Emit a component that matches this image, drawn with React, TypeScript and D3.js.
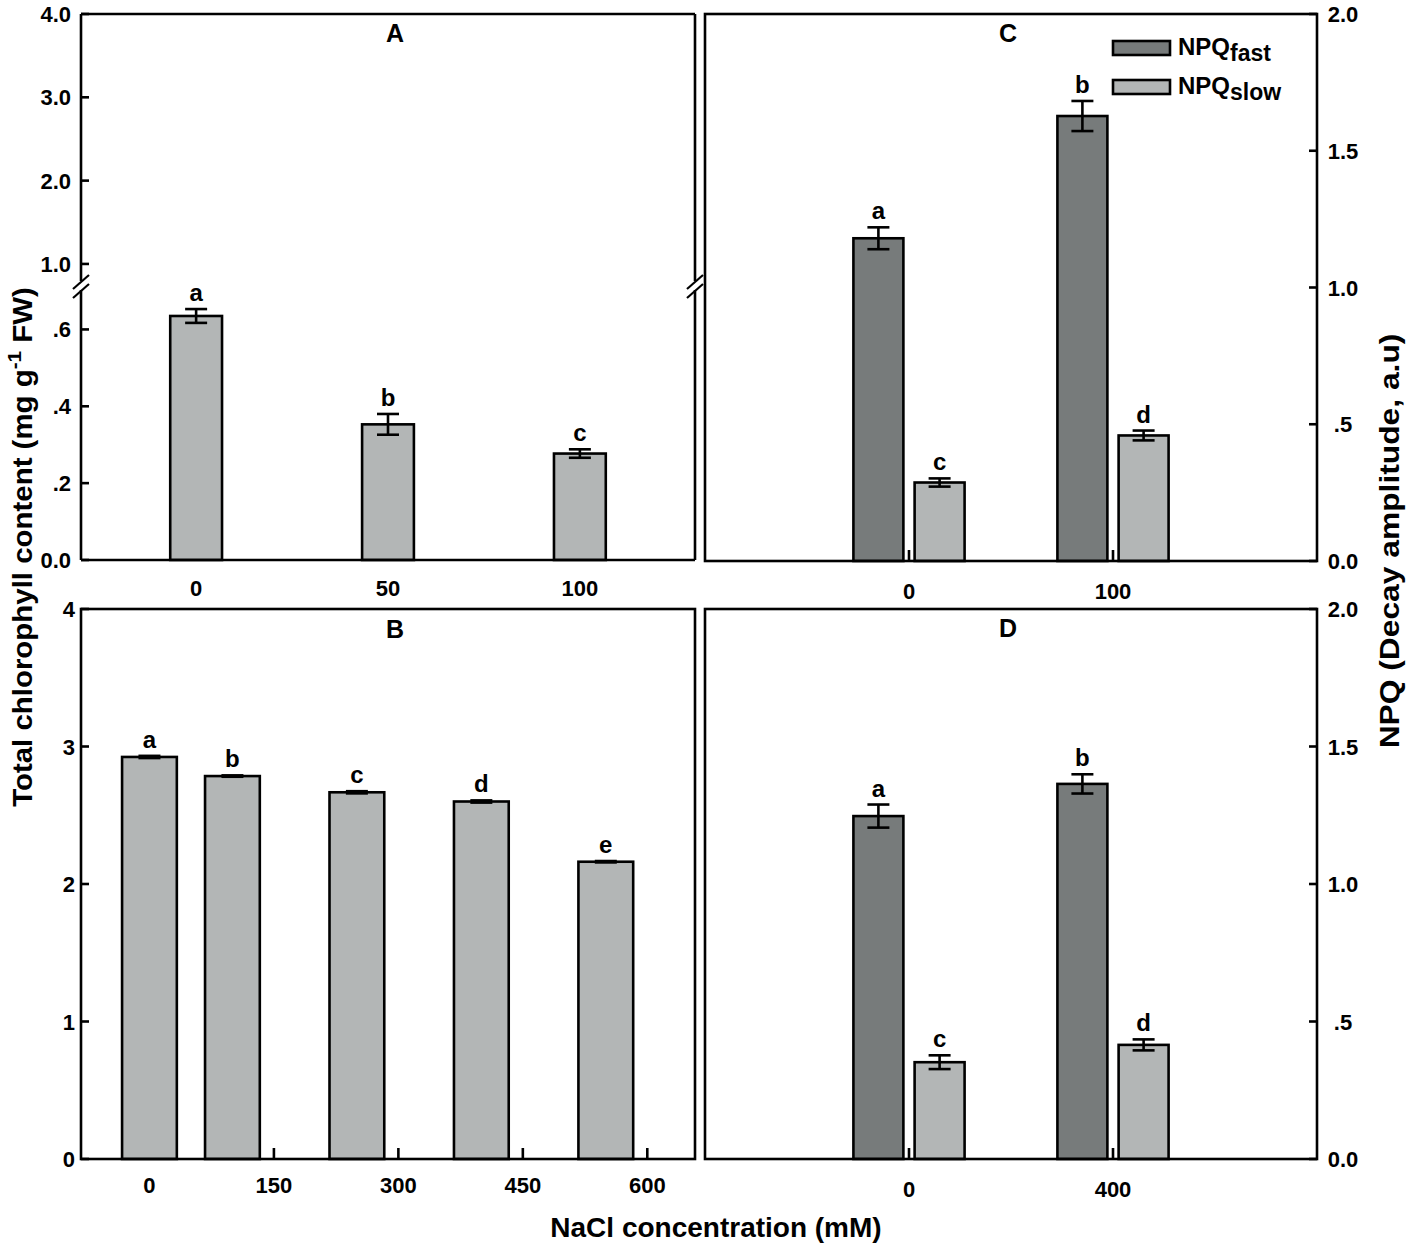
import { useEffect, useRef } from "react"
import * as d3 from "d3"

// Panel A – NaCl 0/50/100 mM, total chlorophyll
const concA = [0, 50, 100]
const chlA = [0.635, 0.353, 0.277]
const chlAErr = [0.018, 0.027, 0.011]
const lettersA = ["a", "b", "c"]

// Panel B – NaCl 0..550 mM, total chlorophyll
const concB = [0, 100, 250, 400, 550]
const chlB = [2.924, 2.785, 2.667, 2.6, 2.162]
const chlBErr = [0.008, 0.005, 0.008, 0.008, 0.005]
const lettersB = ["a", "b", "c", "d", "e"]
const xTicksB = [0, 150, 300, 450, 600]
const yTicksB = [0, 1, 2, 3, 4]

// Panel C – NPQ decay amplitudes, 0 / 100 mM
const concC = [0, 100]
const fastC = [1.18, 1.627]
const fastCErr = [0.04, 0.055]
const slowC = [0.287, 0.459]
const slowCErr = [0.015, 0.018]
const fastLettersC = ["a", "b"]
const slowLettersC = ["c", "d"]

// Panel D – NPQ decay amplitudes, 0 / 400 mM
const concD = [0, 400]
const fastD = [1.247, 1.364]
const fastDErr = [0.042, 0.035]
const slowD = [0.352, 0.415]
const slowDErr = [0.025, 0.02]
const fastLettersD = ["a", "b"]
const slowLettersD = ["c", "d"]

const npqTicks = [0, 0.5, 1, 1.5, 2]
const upperTicksA = [1, 2, 3, 4]
const lowerTicksA = [0, 0.2, 0.4, 0.6]

const DARK = "#777b7b"
const LIGHT = "#b3b6b6"
const FONT = "'Liberation Sans', Arial, sans-serif"
const SW = 2.6

const fmtDot = (v: number) => (v === 0 ? "0.0" : v < 1 ? d3.format(".1f")(v).replace(/^0/, "") : d3.format(".1f")(v))

export default function App() {
  const svgRef = useRef<SVGSVGElement>(null)

  useEffect(() => {
    if (!svgRef.current) return
    const root = d3.select(svgRef.current)
    root.selectAll("*").remove()
    // small downward nudge so the top tick labels are not clipped
    const svg = root.append("g").attr("transform", "translate(0,4)")

    const txt = (g: any, x: number, y: number, s: string, size: number, anchor = "middle") =>
      g
        .append("text")
        .attr("x", x)
        .attr("y", y)
        .attr("text-anchor", anchor)
        .attr("font-family", FONT)
        .attr("font-weight", "bold")
        .attr("font-size", size)
        .attr("fill", "#000")
        .text(s)

    const line = (g: any, x1: number, y1: number, x2: number, y2: number, w = SW) =>
      g
        .append("line")
        .attr("x1", x1)
        .attr("y1", y1)
        .attr("x2", x2)
        .attr("y2", y2)
        .attr("stroke", "#000")
        .attr("stroke-width", w)

    // draw bars with error bars and significance letters
    const drawBars = (
      g: any,
      x: any,
      y: any,
      xs: number[],
      vals: number[],
      errs: number[],
      letters: string[],
      barW: number,
      offset: number,
      fill: string,
    ) => {
      const w = x(barW) - x(0)
      xs.forEach((c, i) => {
        const cx = x(c + offset)
        const top = y(vals[i])
        g.append("rect")
          .attr("x", cx - w / 2)
          .attr("y", top)
          .attr("width", w)
          .attr("height", y(0) - top)
          .attr("fill", fill)
          .attr("stroke", "#000")
          .attr("stroke-width", SW)
        const hi = y(vals[i] + errs[i])
        const lo = y(vals[i] - errs[i])
        line(g, cx, hi, cx, lo)
        line(g, cx - 11, hi, cx + 11, hi)
        line(g, cx - 11, lo, cx + 11, lo)
        txt(g, cx, hi - 8, letters[i], 24)
      })
    }

    // ---------- Panel A (broken y axis) ----------
    {
      const g = svg.append("g")
      const x = d3.scaleLinear().domain([-30, 130]).range([81, 695])
      const yUp = d3.scaleLinear().domain([0.8, 4]).range([276.6, 10])
      const yLo = d3.scaleLinear().domain([0, 0.7]).range([556, 287])
      concA.forEach((c) => line(g, x(c), yLo(0), x(c), yLo(0) - 11))
      drawBars(g, x, yLo, concA, chlA, chlAErr, lettersA, 13.5, 0, LIGHT)
      // frame with break
      line(g, 81, 10, 695, 10)
      line(g, 81, 556, 695, 556)
      line(g, 81, 10, 81, 277)
      line(g, 81, 286, 81, 556)
      line(g, 695, 10, 695, 277)
      line(g, 695, 286, 695, 556)
      ;[81, 695].forEach((bx) => {
        line(g, bx - 8, 285, bx + 8, 271, 2.2)
        line(g, bx - 8, 294, bx + 8, 280, 2.2)
      })
      upperTicksA.forEach((t) => {
        line(g, 81, yUp(t), 89, yUp(t))
        txt(g, 71, yUp(t) + 8, fmtDot(t), 22, "end")
      })
      lowerTicksA.forEach((t) => {
        line(g, 81, yLo(t), 89, yLo(t))
        txt(g, 71, yLo(t) + 8, fmtDot(t), 22, "end")
      })
      concA.forEach((c) => txt(g, x(c), 592, String(c), 22))
      txt(g, 395, 38, "A", 25)
    }

    // ---------- Panel B ----------
    {
      const g = svg.append("g")
      const x = d3.scaleLinear().domain([-82.5, 657.5]).range([81, 695])
      const y = d3.scaleLinear().domain([0, 4]).range([1155, 605])
      xTicksB.forEach((t) => line(g, x(t), y(0), x(t), y(0) - 11))
      drawBars(g, x, y, concB, chlB, chlBErr, lettersB, 66, 0, LIGHT)
      g.append("rect")
        .attr("x", 81)
        .attr("y", 605)
        .attr("width", 614)
        .attr("height", 550)
        .attr("fill", "none")
        .attr("stroke", "#000")
        .attr("stroke-width", SW)
      yTicksB.forEach((t) => {
        line(g, 81, y(t), 89, y(t))
        txt(g, 75, y(t) + 8, String(t), 22, "end")
      })
      xTicksB.forEach((t) => txt(g, x(t), 1189, String(t), 22))
      txt(g, 395, 634, "B", 25)
    }

    // ---------- Panels C and D ----------
    const npqPanel = (
      top: number,
      bottom: number,
      domain: [number, number],
      conc: number[],
      fast: number[],
      fastErr: number[],
      slow: number[],
      slowErr: number[],
      fastLetters: string[],
      slowLetters: string[],
      barW: number,
      off: number,
      label: string,
    ) => {
      const g = svg.append("g")
      const x = d3.scaleLinear().domain(domain).range([705, 1317])
      const y = d3.scaleLinear().domain([0, 2]).range([bottom, top])
      conc.forEach((c) => line(g, x(c), y(0), x(c), y(0) - 11))
      drawBars(g, x, y, conc, fast, fastErr, fastLetters, barW, -off, DARK)
      drawBars(g, x, y, conc, slow, slowErr, slowLetters, barW, off, LIGHT)
      g.append("rect")
        .attr("x", 705)
        .attr("y", top)
        .attr("width", 612)
        .attr("height", bottom - top)
        .attr("fill", "none")
        .attr("stroke", "#000")
        .attr("stroke-width", SW)
      npqTicks.forEach((t) => {
        line(g, 1317, y(t), 1309, y(t))
        txt(g, 1343, y(t) + 8, fmtDot(t), 22)
      })
      conc.forEach((c) => txt(g, x(c), bottom + 38, String(c), 22))
      txt(g, 1008, top + 28, label, 25)
    }
    npqPanel(10, 557, [-100, 200], concC, fastC, fastCErr, slowC, slowCErr, fastLettersC, slowLettersC, 24.5, 15, "C")
    npqPanel(605, 1155, [-400, 800], concD, fastD, fastDErr, slowD, slowDErr, fastLettersD, slowLettersD, 98, 60, "D")

    // ---------- Legend (panel C) ----------
    const legend = svg.append("g")
    const legendItems = [
      { fill: DARK, sub: "fast", y: 37 },
      { fill: LIGHT, sub: "slow", y: 76 },
    ]
    legendItems.forEach((d) => {
      legend
        .append("rect")
        .attr("x", 1113)
        .attr("y", d.y)
        .attr("width", 57)
        .attr("height", 14)
        .attr("fill", d.fill)
        .attr("stroke", "#000")
        .attr("stroke-width", SW)
      const t = txt(legend, 1178, d.y + 14, "NPQ", 24, "start")
      t.append("tspan").attr("dy", 6).attr("font-size", 23).text(d.sub)
    })

    // ---------- Axis titles ----------
    txt(svg, 716, 1233, "NaCl concentration (mM)", 28)

    const rotated = (cx: number, cy: number, target: number, build: (t: any) => void) => {
      const g = svg.append("g")
      const t = g
        .append("text")
        .attr("text-anchor", "middle")
        .attr("font-family", FONT)
        .attr("font-weight", "bold")
        .attr("font-size", 27)
      build(t)
      const len = (t.node() as SVGTextElement).getComputedTextLength() || target
      g.attr("transform", `translate(${cx},${cy}) rotate(-90) scale(${target / len},1)`)
    }
    rotated(32, 543, 520, (t) => {
      t.append("tspan").text("Total chlorophyll content (mg g")
      t.append("tspan").attr("dy", -11).attr("font-size", 19).text("-1")
      t.append("tspan").attr("dy", 11).text(" FW)")
    })
    rotated(1399, 537, 415, (t) => {
      t.text("NPQ (Decay amplitude, a.u)")
    })
  }, [])

  return (
    <div>
      <style>{`body{margin:0;background:#fff}`}</style>
      <svg ref={svgRef} width={1406} height={1244} style={{ display: "block" }} />
    </div>
  )
}
